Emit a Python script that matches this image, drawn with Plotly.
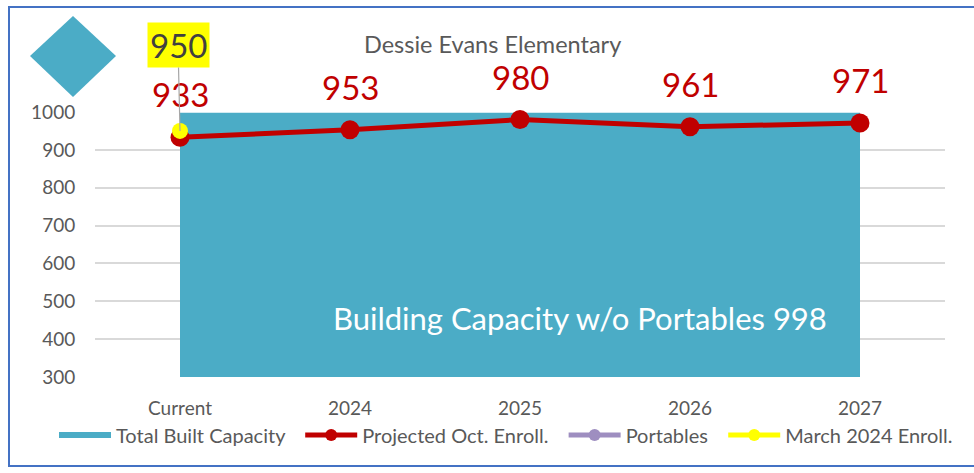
import plotly.graph_objects as go

# data
years = ['Current', '2024', '2025', '2026', '2027']
capacity = [998, 998, 998, 998, 998]
projected = [933, 953, 980, 961, 971]
portables = [None, None, None, None, None]
march_enroll = [950, None, None, None, None]

W, H = 974, 473
L, R, T, B = 95, 29, 112, 96
pw, ph = W - L - R, H - T - B

def px(x, y):
    # pixel -> paper coords
    return (x - L) / pw, (H - B - y) / ph

font = 'Lato, Open Sans, sans-serif'
grey = '#595959'
pad = '\u00a0\u00a0'  # a little extra room between legend entries

fig = go.Figure()
fig.add_trace(go.Scatter(x=years, y=capacity, name='Total Built Capacity' + pad, mode='none',
                         fill='tozeroy', fillcolor='#4BACC6'))
fig.add_trace(go.Scatter(x=years, y=projected, name='Projected Oct. Enroll.' + pad, mode='lines+markers',
                         line=dict(color='#C00000', width=5), marker=dict(size=19, color='#C00000'),
                         cliponaxis=False))
fig.add_trace(go.Scatter(x=years, y=portables, name='Portables' + pad, mode='lines+markers',
                         line=dict(color='#9E8EC0', width=5), marker=dict(size=12, color='#9E8EC0')))
fig.add_trace(go.Scatter(x=years, y=march_enroll, name='March 2024 Enroll.', mode='lines+markers',
                         line=dict(color='#FFFF00', width=5), marker=dict(size=16, color='#FFFF00'),
                         cliponaxis=False))

# red value labels (x as category index)
for i, v in enumerate(projected):
    fig.add_annotation(x=i, y=v, text=str(v), showarrow=False, yshift=43,
                       xanchor='center', yanchor='middle',
                       font=dict(size=33, color='#C00000', family=font))

# march label with leader line
for i, v in enumerate(march_enroll):
    if v is None:
        continue
    fig.add_annotation(x=i, y=v, text=str(v), showarrow=True, arrowhead=0, arrowwidth=1.2,
                       arrowcolor='#A6A6A6', ax=-2, ay=-86, bgcolor='#FFFF00', borderpad=2,
                       font=dict(size=33, color='#404040', family=font))

cx, cy = px(580, 318)
fig.add_annotation(x=cx, y=cy, xref='paper', yref='paper', showarrow=False,
                   xanchor='center', yanchor='middle',
                   text='Building Capacity w/o Portables %d' % capacity[0],
                   font=dict(size=31, color='white', family=font))

tx, ty = px(492, 44)
fig.add_annotation(x=tx, y=ty, xref='paper', yref='paper', showarrow=False,
                   xanchor='center', yanchor='middle',
                   text='Dessie Evans Elementary', font=dict(size=23.5, color=grey, family=font))

# diamond decoration
pts = [px(30, 56), px(73, 16), px(116, 56), px(73, 97)]
path = 'M ' + ' L '.join('%f,%f' % p for p in pts) + ' Z'
fig.add_shape(type='path', path=path, xref='paper', yref='paper',
              fillcolor='#4BACC6', line=dict(width=0))

# outer border: top, left and bottom only (right side is cut off in the original)
b = [px(980, 7), px(9, 7), px(9, 466), px(980, 466)]
fig.add_shape(type='path', xref='paper', yref='paper',
              path='M ' + ' L '.join('%f,%f' % p for p in b),
              line=dict(color='#4472C4', width=2), layer='below')

lx, ly = px(54, 435)
fig.update_layout(
    width=W, height=H,
    margin=dict(l=L, r=R, t=T, b=B),
    plot_bgcolor='white', paper_bgcolor='white',
    font=dict(family=font, color=grey, size=19),
    showlegend=True,
    legend=dict(orientation='h', x=lx, y=ly, xanchor='left', yanchor='middle',
                font=dict(size=20, color=grey), itemwidth=52, itemsizing='constant',
                tracegroupgap=0),
    xaxis=dict(range=[-0.5, 4.5], showgrid=False, showline=False, zeroline=False,
               ticks='outside', ticklen=14, tickcolor='rgba(0,0,0,0)',
               tickfont=dict(size=19, color=grey)),
    yaxis=dict(range=[300, 1000], dtick=100, showgrid=True, gridcolor='#D9D9D9', gridwidth=1.5,
               zeroline=False, showline=False, ticks='outside', ticklen=15,
               tickcolor='rgba(0,0,0,0)', tickfont=dict(size=19, color=grey)),
)

fig.write_html('out.html', config={'displayModeBar': False},
               post_script="document.body.style.margin='0';")
